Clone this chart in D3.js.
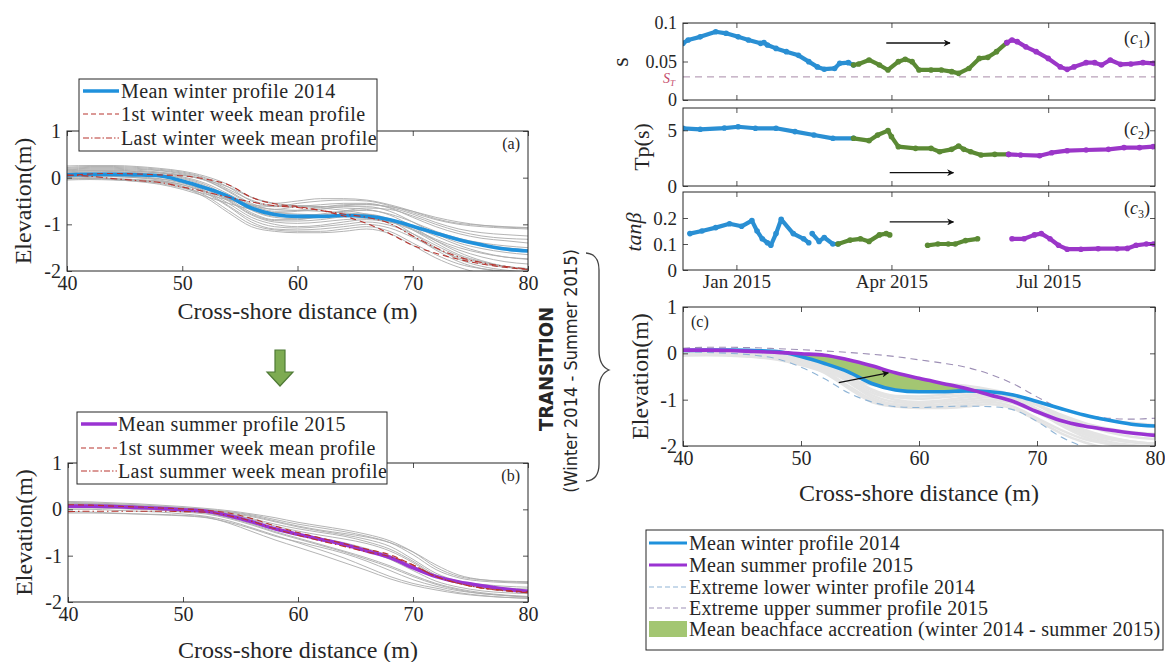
<!DOCTYPE html>
<html><head><meta charset="utf-8">
<script src="https://cdn.jsdelivr.net/npm/d3@7"></script>
<style>
body{margin:0;background:#fff}
svg{display:block}
text{font-family:"Liberation Serif","Times New Roman",serif;fill:#262626}
.sans{font-family:"Liberation Sans Narrow","DejaVu Sans Condensed","Arial Narrow",sans-serif;font-stretch:condensed}
</style></head><body>
<svg id="chart" width="1165" height="662"></svg>
<script>
// ---------- cross-shore grid (m) ----------
const xGrid = [40,42,44,46,48,50,52,54,56,58,60,62,64,66,68,70,72,74,76,78,80];
const xTicks = [40,50,60,70,80];
const zTicks = [-2,-1,0,1];

// ---------- mean / reference profiles (elevation, m) ----------
const meanWinter  = [0.06,0.07,0.07,0.06,0.04,-0.07,-0.22,-0.40,-0.65,-0.79,-0.83,-0.83,-0.81,-0.83,-0.90,-1.04,-1.19,-1.33,-1.44,-1.53,-1.57];
const meanSummer  = [0.07,0.07,0.06,0.04,0.02,-0.01,-0.04,-0.14,-0.27,-0.42,-0.54,-0.65,-0.76,-0.90,-1.04,-1.26,-1.45,-1.57,-1.65,-1.72,-1.77];
const firstWinter = [0.04,0.08,0.09,0.08,0.06,0.04,-0.03,-0.15,-0.42,-0.56,-0.62,-0.70,-0.82,-0.98,-1.20,-1.45,-1.62,-1.75,-1.85,-1.92,-1.97];
const lastWinter  = [0.06,0.03,-0.02,-0.06,-0.10,-0.20,-0.30,-0.42,-0.52,-0.60,-0.64,-0.70,-0.78,-0.85,-0.98,-1.25,-1.50,-1.70,-1.82,-1.90,-1.96];
const firstSummer = [0.10,0.09,0.07,0.05,0.03,0.01,-0.02,-0.08,-0.20,-0.36,-0.50,-0.62,-0.74,-0.86,-0.98,-1.20,-1.45,-1.60,-1.70,-1.75,-1.78];
const lastSummer  = [-0.05,-0.04,-0.04,-0.04,-0.04,-0.05,-0.06,-0.14,-0.26,-0.42,-0.56,-0.68,-0.80,-0.92,-1.02,-1.20,-1.45,-1.60,-1.70,-1.76,-1.80];
const extremeLowerWinter = [0.04,0.02,0.00,-0.04,-0.12,-0.30,-0.55,-0.85,-1.05,-1.15,-1.17,-1.15,-1.14,-1.15,-1.22,-1.47,-1.80,-2.02,-2.15,-2.20,-2.20];
const extremeUpperSummer = [0.11,0.13,0.13,0.12,0.10,0.08,0.05,0.02,-0.02,-0.07,-0.14,-0.21,-0.30,-0.45,-0.66,-0.94,-1.19,-1.33,-1.40,-1.42,-1.40];

// ---------- individual winter 2014 profiles ----------
const w1  = [0.22,0.24,0.24,0.22,0.18,0.12,0.00,-0.20,-0.50,-0.62,-0.55,-0.50,-0.48,-0.50,-0.60,-0.75,-0.90,-1.00,-1.05,-1.08,-1.10];
const w2  = [0.18,0.20,0.20,0.18,0.15,0.08,-0.05,-0.28,-0.55,-0.68,-0.62,-0.58,-0.55,-0.55,-0.65,-0.85,-1.05,-1.20,-1.30,-1.35,-1.40];
const w3  = [0.12,0.15,0.15,0.13,0.10,0.02,-0.12,-0.35,-0.60,-0.75,-0.72,-0.68,-0.62,-0.62,-0.72,-0.95,-1.20,-1.40,-1.52,-1.60,-1.65];
const w4  = [0.10,0.10,0.10,0.08,0.04,-0.05,-0.20,-0.42,-0.70,-0.85,-0.88,-0.85,-0.78,-0.78,-0.88,-1.05,-1.25,-1.45,-1.60,-1.70,-1.75];
const w5  = [0.05,0.06,0.06,0.05,0.02,-0.08,-0.25,-0.50,-0.80,-0.95,-0.98,-0.95,-0.90,-0.88,-0.95,-1.12,-1.35,-1.55,-1.70,-1.80,-1.85];
const w6  = [0.00,0.02,0.02,0.00,-0.03,-0.12,-0.30,-0.60,-0.90,-1.05,-1.08,-1.05,-1.00,-0.95,-1.02,-1.20,-1.45,-1.68,-1.82,-1.90,-1.95];
const w7  = [-0.02,-0.02,-0.03,-0.05,-0.08,-0.18,-0.38,-0.70,-1.00,-1.12,-1.15,-1.15,-1.10,-1.05,-1.15,-1.40,-1.65,-1.85,-1.95,-2.00,-2.02];
const w8  = [0.05,0.02,-0.02,-0.06,-0.12,-0.22,-0.35,-0.48,-0.58,-0.62,-0.62,-0.65,-0.70,-0.78,-0.90,-1.12,-1.40,-1.65,-1.80,-1.90,-1.95];
const w9  = [0.08,0.06,0.03,0.00,-0.05,-0.15,-0.30,-0.45,-0.60,-0.68,-0.70,-0.72,-0.75,-0.80,-0.92,-1.20,-1.50,-1.75,-1.90,-1.98,-2.02];
const w10 = [0.15,0.16,0.16,0.14,0.10,0.05,-0.05,-0.20,-0.42,-0.55,-0.60,-0.62,-0.60,-0.58,-0.62,-0.72,-0.85,-0.95,-1.02,-1.06,-1.08];
const w11 = [0.02,0.04,0.04,0.02,-0.02,-0.10,-0.28,-0.55,-0.85,-1.00,-1.05,-1.02,-0.95,-0.90,-0.95,-1.05,-1.20,-1.35,-1.45,-1.50,-1.55];
const w12 = [0.10,0.12,0.12,0.10,0.06,-0.02,-0.18,-0.45,-0.75,-0.90,-0.90,-0.82,-0.72,-0.65,-0.68,-0.82,-1.00,-1.15,-1.25,-1.30,-1.32];
const w13 = [0.20,0.22,0.22,0.20,0.16,0.10,-0.02,-0.25,-0.48,-0.60,-0.60,-0.62,-0.65,-0.68,-0.80,-1.05,-1.35,-1.60,-1.78,-1.90,-1.98];
const w14 = [-0.05,-0.04,-0.05,-0.07,-0.10,-0.20,-0.42,-0.75,-1.05,-1.15,-1.18,-1.18,-1.15,-1.10,-1.20,-1.45,-1.72,-1.92,-2.05,-2.10,-2.10];
const w15 = [0.25,0.26,0.26,0.24,0.20,0.14,0.03,-0.15,-0.42,-0.55,-0.50,-0.45,-0.45,-0.48,-0.58,-0.72,-0.88,-0.98,-1.02,-1.05,-1.07];
const w16 = [0.14,0.14,0.13,0.11,0.07,0.00,-0.15,-0.40,-0.68,-0.82,-0.82,-0.78,-0.72,-0.70,-0.78,-0.95,-1.15,-1.30,-1.40,-1.46,-1.50];
const w17 = [0.03,0.00,-0.04,-0.08,-0.14,-0.25,-0.40,-0.55,-0.68,-0.75,-0.78,-0.80,-0.82,-0.86,-0.98,-1.25,-1.55,-1.80,-1.95,-2.02,-2.05];
const w18 = [0.07,0.08,0.08,0.06,0.02,-0.06,-0.22,-0.48,-0.78,-0.92,-0.93,-0.90,-0.84,-0.83,-0.92,-1.10,-1.32,-1.50,-1.62,-1.70,-1.74];
const w19 = [0.17,0.18,0.18,0.16,0.12,0.06,-0.06,-0.30,-0.58,-0.72,-0.70,-0.64,-0.58,-0.57,-0.64,-0.78,-0.96,-1.10,-1.18,-1.22,-1.25];
const w20 = [-0.03,-0.02,-0.02,-0.04,-0.07,-0.15,-0.33,-0.62,-0.95,-1.10,-1.12,-1.10,-1.05,-1.00,-1.08,-1.28,-1.52,-1.72,-1.85,-1.92,-1.96];
const winterProfiles = [w1,w2,w3,w4,w5,w6,w7,w8,w9,w10,w11,w12,w13,w14,w15,w16,w17,w18,w19,w20];
// profiles shown as light shading in panel (c)
const winterLowerProfiles = [w5,w6,w7,w8,w9,w11,w14,w17,w18,w20];

// ---------- individual summer 2015 profiles ----------
const s1  = [0.15,0.14,0.12,0.10,0.07,0.04,0.00,-0.05,-0.12,-0.22,-0.32,-0.40,-0.48,-0.58,-0.72,-0.98,-1.30,-1.48,-1.55,-1.58,-1.60];
const s2  = [0.12,0.12,0.10,0.08,0.05,0.02,-0.02,-0.08,-0.16,-0.27,-0.38,-0.47,-0.55,-0.65,-0.80,-1.08,-1.38,-1.55,-1.62,-1.66,-1.68];
const s3  = [0.10,0.10,0.08,0.06,0.03,0.00,-0.03,-0.10,-0.20,-0.32,-0.42,-0.50,-0.58,-0.70,-0.86,-1.12,-1.42,-1.58,-1.66,-1.70,-1.72];
const s4  = [0.08,0.07,0.06,0.04,0.02,-0.02,-0.06,-0.14,-0.26,-0.40,-0.52,-0.62,-0.72,-0.85,-1.00,-1.22,-1.45,-1.60,-1.70,-1.76,-1.80];
const s5  = [0.05,0.04,0.03,0.02,0.00,-0.04,-0.08,-0.18,-0.32,-0.48,-0.62,-0.76,-0.90,-1.05,-1.22,-1.42,-1.60,-1.72,-1.80,-1.85,-1.88];
const s6  = [0.00,0.00,-0.02,-0.04,-0.06,-0.10,-0.15,-0.25,-0.40,-0.56,-0.72,-0.88,-1.05,-1.25,-1.45,-1.60,-1.70,-1.80,-1.86,-1.90,-1.92];
const s7  = [-0.05,-0.06,-0.08,-0.10,-0.12,-0.14,-0.18,-0.28,-0.42,-0.58,-0.70,-0.82,-0.95,-1.12,-1.32,-1.52,-1.66,-1.76,-1.82,-1.86,-1.90];
const s8  = [0.13,0.12,0.10,0.08,0.05,0.02,-0.01,-0.06,-0.14,-0.25,-0.36,-0.45,-0.52,-0.60,-0.72,-0.92,-1.20,-1.42,-1.52,-1.56,-1.58];
const s9  = [0.06,0.06,0.05,0.03,0.00,-0.03,-0.07,-0.16,-0.30,-0.44,-0.56,-0.66,-0.76,-0.90,-1.08,-1.32,-1.55,-1.68,-1.76,-1.80,-1.82];
const s10 = [0.10,0.09,0.08,0.06,0.04,0.01,-0.03,-0.10,-0.22,-0.36,-0.47,-0.56,-0.64,-0.74,-0.90,-1.15,-1.45,-1.60,-1.68,-1.72,-1.75];
const s11 = [0.17,0.16,0.14,0.12,0.09,0.06,0.02,-0.03,-0.10,-0.18,-0.28,-0.36,-0.44,-0.54,-0.68,-0.92,-1.25,-1.45,-1.52,-1.55,-1.56];
const s12 = [-0.08,-0.08,-0.09,-0.10,-0.11,-0.13,-0.17,-0.30,-0.48,-0.66,-0.82,-0.98,-1.15,-1.32,-1.50,-1.64,-1.74,-1.82,-1.87,-1.90,-1.92];
const s13 = [0.03,0.03,0.02,0.00,-0.02,-0.06,-0.10,-0.20,-0.34,-0.50,-0.64,-0.78,-0.92,-1.08,-1.25,-1.45,-1.62,-1.74,-1.82,-1.86,-1.89];
const summerProfiles = [s1,s2,s3,s4,s5,s6,s7,s8,s9,s10,s11,s12,s13];

// ---------- time series (c1: s, c2: Tp, c3: tan beta) ----------
const sWinter = [["2014-12-01",0.0736],["2014-12-04",0.078],["2014-12-11",0.082],["2014-12-20",0.0887],["2014-12-26",0.0866],["2015-01-02",0.082],["2015-01-08",0.078],["2015-01-15",0.0736],["2015-01-17",0.0745],["2015-01-19",0.0714],["2015-01-24",0.067],["2015-01-30",0.0628],["2015-02-06",0.058],["2015-02-12",0.0498],["2015-02-17",0.043],["2015-02-21",0.040],["2015-02-27",0.041],["2015-03-02",0.0476],["2015-03-07",0.0485],["2015-03-10",0.0455]];
const sTransition = [["2015-03-10",0.0455],["2015-03-13",0.0468],["2015-03-19",0.052],["2015-03-25",0.0455],["2015-03-30",0.039],["2015-04-05",0.0498],["2015-04-09",0.0528],["2015-04-13",0.0498],["2015-04-17",0.039],["2015-04-24",0.039],["2015-04-30",0.039],["2015-05-06",0.0368],["2015-05-10",0.0346],["2015-05-16",0.041],["2015-05-22",0.054],["2015-05-27",0.0554],["2015-06-01",0.0628],["2015-06-07",0.0745]];
const sSummer = [["2015-06-07",0.0745],["2015-06-10",0.078],["2015-06-13",0.0758],["2015-06-18",0.069],["2015-06-24",0.0628],["2015-07-01",0.054],["2015-07-08",0.043],["2015-07-12",0.0398],["2015-07-16",0.043],["2015-07-23",0.0485],["2015-07-28",0.0485],["2015-08-01",0.0455],["2015-08-06",0.052],["2015-08-12",0.0463],["2015-08-18",0.0468],["2015-08-25",0.0485],["2015-08-31",0.0476]];
const sThreshold = 0.03;

const tpWinter = [["2014-12-01",5.18],["2014-12-11",5.09],["2014-12-25",5.2],["2015-01-02",5.32],["2015-01-12",5.18],["2015-01-24",5.18],["2015-02-04",4.88],["2015-02-15",4.58],["2015-02-26",4.28],["2015-03-10",4.28]];
const tpTransition = [["2015-03-10",4.28],["2015-03-19",4.07],["2015-03-24",4.58],["2015-03-30",4.97],["2015-04-01",4.43],["2015-04-05",3.53],["2015-04-15",3.38],["2015-04-24",3.38],["2015-04-29",3.08],["2015-05-06",3.29],["2015-05-10",3.59],["2015-05-13",3.29],["2015-05-17",3.08],["2015-05-23",2.78],["2015-05-31",2.84],["2015-06-08",2.84]];
const tpSummer = [["2015-06-08",2.84],["2015-06-15",2.78],["2015-06-26",2.72],["2015-07-03",2.99],["2015-07-12",3.17],["2015-07-23",3.23],["2015-08-05",3.29],["2015-08-14",3.44],["2015-08-23",3.44],["2015-08-31",3.53]];

const tbWinterA = [["2014-12-05",0.14],["2014-12-12",0.15],["2014-12-20",0.163],["2014-12-28",0.178],["2015-01-04",0.168],["2015-01-10",0.19],["2015-01-13",0.15],["2015-01-16",0.12],["2015-01-19",0.105],["2015-01-21",0.095],["2015-01-24",0.14],["2015-01-27",0.195],["2015-02-03",0.14],["2015-02-09",0.12],["2015-02-12",0.105]];
const tbWinterB = [["2015-02-14",0.14],["2015-02-18",0.11],["2015-02-21",0.125],["2015-02-26",0.10],["2015-03-01",0.10]];
const tbTransA = [["2015-03-01",0.10],["2015-03-08",0.115],["2015-03-14",0.12],["2015-03-19",0.11],["2015-03-25",0.135],["2015-03-29",0.14],["2015-03-31",0.135]];
const tbTransB = [["2015-04-22",0.095],["2015-04-28",0.10],["2015-05-04",0.10],["2015-05-08",0.10],["2015-05-14",0.113],["2015-05-21",0.12]];
const tbSummer = [["2015-06-10",0.12],["2015-06-17",0.12],["2015-06-23",0.135],["2015-06-27",0.14],["2015-07-02",0.12],["2015-07-07",0.095],["2015-07-12",0.08],["2015-07-20",0.08],["2015-07-30",0.082],["2015-08-10",0.082],["2015-08-16",0.083],["2015-08-21",0.095],["2015-08-27",0.10],["2015-08-31",0.10]];

const timeDomain = ["2014-12-01","2015-09-01"];
const timeTicks = ["2015-01-01","2015-04-01","2015-07-01"];

// ---------- labels ----------
const legendA = ["Mean winter profile 2014","1st winter week mean profile","Last winter week mean profile"];
const legendB = ["Mean summer profile 2015","1st summer week mean profile","Last summer week mean profile"];
const legendC = ["Mean winter profile 2014","Mean summer profile 2015","Extreme lower winter profile 2014","Extreme upper summer profile 2015","Mean beachface accreation (winter 2014 - summer 2015)"];

// ---------- colours ----------
const C = {blue:"#1f91dc", purple:"#9a33d2", red:"#b8342e", gray:"#ababab", tsBlue:"#2a8fd3", tsGreen:"#5b8a34", tsPurple:"#9b36c8",
  green:"#a3c672", lowW:"#8fb4d6", upS:"#9d8fb5", ax:"#262626"};

const svg = d3.select("#chart");
const parse = d3.timeParse("%Y-%m-%d");
const fmt = d => String(d);

svg.append("defs").append("marker").attr("id","ah").attr("viewBox","0 0 10 10").attr("refX",9).attr("refY",5)
  .attr("markerWidth",9).attr("markerHeight",7).attr("markerUnits","userSpaceOnUse").attr("orient","auto")
  .append("path").attr("d","M0,0 L10,5 L0,10 L3,5 Z").attr("fill","#111");

function boxAxes(g, x, y, b, xt, yt, xfmt, yfmt, showX, fs){
  g.append("g").attr("transform",`translate(0,${b.b})`).call(d3.axisBottom(x).tickValues(xt).tickSize(-5).tickPadding(5).tickFormat(showX?xfmt:""));
  g.append("g").attr("transform",`translate(0,${b.t})`).call(d3.axisTop(x).tickValues(xt).tickSize(-5).tickFormat(""));
  g.append("g").attr("transform",`translate(${b.l},0)`).call(d3.axisLeft(y).tickValues(yt).tickSize(-5).tickPadding(6).tickFormat(yfmt));
  g.append("g").attr("transform",`translate(${b.r},0)`).call(d3.axisRight(y).tickValues(yt).tickSize(-5).tickFormat(""));
  g.selectAll(".domain").remove();
  g.selectAll(".tick line").attr("stroke",C.ax).attr("stroke-width",0.8);
  g.selectAll(".tick text").attr("font-size",fs).attr("fill",C.ax);
  g.append("rect").attr("x",b.l).attr("y",b.t).attr("width",b.r-b.l).attr("height",b.b-b.t)
    .attr("fill","none").attr("stroke",C.ax).attr("stroke-width",1);
}

let clipId = 0;
function clip(g, b){
  const id = "clip"+(clipId++);
  svg.select("defs").append("clipPath").attr("id",id).append("rect").attr("x",b.l).attr("y",b.t).attr("width",b.r-b.l).attr("height",b.b-b.t);
  return g.append("g").attr("clip-path",`url(#${id})`);
}

function legend(g, box, items, rows, sx1, sx2, tx, fs, ls){
  g.append("rect").attr("x",box.x).attr("y",box.y).attr("width",box.w).attr("height",box.h).attr("fill","#fff").attr("stroke",C.ax).attr("stroke-width",1);
  items.forEach((it,i)=>{
    const yy = rows[i];
    if(it.fill){
      g.append("rect").attr("x",sx1).attr("y",yy-8).attr("width",sx2-sx1).attr("height",16).attr("fill",it.fill);
    } else {
      g.append("line").attr("x1",sx1).attr("x2",sx2).attr("y1",yy).attr("y2",yy).attr("stroke",it.color)
        .attr("stroke-width",it.w).attr("stroke-dasharray",it.dash||null);
    }
    g.append("text").attr("x",tx).attr("y",yy).attr("dy","0.35em").attr("font-size",fs).attr("letter-spacing",ls).text(it.label);
  });
}

function profilePanel(b, bg, mean, meanColor, first, last, panelLabel, leg, legBox, legRows, legS1, legS2, legT, xlabY){
  const g = svg.append("g");
  const x = d3.scaleLinear().domain([40,80]).range([b.l,b.r]);
  const y = d3.scaleLinear().domain([-2,1]).range([b.b,b.t]);
  const line = d3.line().x((d,i)=>x(xGrid[i])).y(d=>y(d)).curve(d3.curveMonotoneX);
  const cg = clip(g,b);
  bg.forEach(p=>cg.append("path").attr("d",line(p)).attr("fill","none").attr("stroke",C.gray).attr("stroke-width",0.9));
  cg.append("path").attr("d",line(mean)).attr("fill","none").attr("stroke",meanColor).attr("stroke-width",3.6);
  cg.append("path").attr("d",line(first)).attr("fill","none").attr("stroke",C.red).attr("stroke-width",1.1).attr("stroke-dasharray","6,4");
  cg.append("path").attr("d",line(last)).attr("fill","none").attr("stroke",C.red).attr("stroke-width",1.1).attr("stroke-dasharray","7,3,1.5,3");
  boxAxes(g,x,y,b,xTicks,zTicks,fmt,fmt,true,20);
  g.append("text").attr("x",b.r-8).attr("y",b.t+18).attr("text-anchor","end").attr("font-size",16).text(panelLabel);
  g.append("text").attr("x",(b.l+b.r)/2).attr("y",xlabY).attr("text-anchor","middle").attr("font-size",24).text("Cross-shore distance (m)");
  g.append("text").attr("transform",`translate(${b.l-44},${(b.t+b.b)/2}) rotate(-90)`).attr("text-anchor","middle").attr("dy","0.35em").attr("font-size",24).text("Elevation(m)");
  legend(g, legBox, [
    {label:leg[0],color:meanColor,w:3.6},
    {label:leg[1],color:C.red,w:1.1,dash:"5,3"},
    {label:leg[2],color:C.red,w:1.1,dash:"6,2,1.5,2"}], legRows, legS1, legS2, legT, 20, 0.4);
}

// Panel (a)
profilePanel({l:67,r:528,t:131,b:271}, winterProfiles, meanWinter, C.blue, firstWinter, lastWinter, "(a)", legendA,
  {x:79,y:79,w:298,h:72}, [91,114,138], 83, 119, 121, 319);
// Panel (b)
profilePanel({l:68,r:528,t:463,b:602}, summerProfiles, meanSummer, C.purple, firstSummer, lastSummer, "(b)", legendB,
  {x:77,y:412,w:310,h:72}, [424,448,471], 81, 117, 118, 658);

// green down arrow
svg.append("path").attr("d","M275,350 L285,350 L285,372 L293,372 L280,386 L267,372 L275,372 Z")
  .attr("fill","#7dab52").attr("stroke","#4f7a36").attr("stroke-width",1.2);

// transition text + brace
svg.append("text").attr("class","sans").attr("transform","translate(546,369) rotate(-90)").attr("text-anchor","middle").attr("dy","0.35em")
  .attr("font-size",20).attr("font-weight","bold").text("TRANSITION");
svg.append("text").attr("class","sans").attr("transform","translate(571,371) rotate(-90)").attr("text-anchor","middle").attr("dy","0.35em")
  .attr("font-size",18).text("(Winter 2014 - Summer 2015)");
svg.append("path").attr("d","M586,253 Q599,254 599,270 L599,350 Q599,366 609,370 Q599,374 599,390 L599,464 Q599,480 586,481")
  .attr("fill","none").attr("stroke","#444").attr("stroke-width",1.3);

// ---------- time series panels ----------
const TL = 683, TR = 1155;
const tx = d3.scaleTime().domain(timeDomain.map(parse)).range([TL,TR]);
const tTicks = timeTicks.map(parse);

function tsPanel(b, domain, yt, yfmt, segs, showX){
  const g = svg.append("g");
  const y = d3.scaleLinear().domain(domain).range([b.b,b.t]);
  const line = d3.line().x(d=>tx(parse(d[0]))).y(d=>y(d[1]));
  const cg = clip(g,b);
  segs.forEach(([data,col])=>{
    cg.append("path").attr("d",line(data)).attr("fill","none").attr("stroke",col).attr("stroke-width",4.2).attr("stroke-linejoin","round").attr("stroke-linecap","round");
    cg.selectAll(null).data(data).enter().append("circle").attr("cx",d=>tx(parse(d[0]))).attr("cy",d=>y(d[1])).attr("r",2.8).attr("fill",col);
  });
  boxAxes(g,tx,y,b,tTicks,yt,d3.timeFormat("%b %Y"),yfmt,showX,19);
  return {g,y,cg};
}

// c1
const c1 = tsPanel({l:TL,r:TR,t:23,b:100},[0,0.1],[0,0.05,0.1],fmt,[[sWinter,C.tsBlue],[sTransition,C.tsGreen],[sSummer,C.tsPurple]],false);
c1.g.selectAll(".tick text").attr("font-size",18);
c1.cg.insert("line",":first-child").attr("x1",TL).attr("x2",TR).attr("y1",c1.y(sThreshold)).attr("y2",c1.y(sThreshold))
  .attr("stroke","#a88aa8").attr("stroke-width",1).attr("stroke-dasharray","7,5");
const st = c1.g.append("text").attr("x",TL-8).attr("y",c1.y(sThreshold)+2).attr("dy","0.3em").attr("text-anchor","end").attr("font-size",14).attr("font-style","italic").style("fill","#c44a6a");
st.append("tspan").text("S");
st.append("tspan").attr("font-size",9).attr("dy",3).text("T");
c1.g.append("text").attr("transform",`translate(620,62) rotate(-90)`).attr("text-anchor","middle").attr("dy","0.35em").attr("font-size",24).text("s");
function panelTag(g, x, y, sub){
  const t = g.append("text").attr("x",x).attr("y",y).attr("text-anchor","end").attr("font-size",18);
  t.append("tspan").text("(");
  t.append("tspan").attr("font-style","italic").text("c");
  t.append("tspan").attr("font-size",12).attr("dy",4).text(sub);
  t.append("tspan").attr("dy",-4).text(")");
}
panelTag(c1.g, TR-5, 44, "1");
function tArrow(g, y, d1, d2, v){
  g.append("line").attr("x1",tx(parse(d1))).attr("x2",tx(parse(d2))).attr("y1",y(v)).attr("y2",y(v))
    .attr("stroke","#111").attr("stroke-width",1.3).attr("marker-end","url(#ah)");
}
tArrow(c1.g, c1.y, "2015-03-29","2015-05-05", 0.074);

// c2
const c2 = tsPanel({l:TL,r:TR,t:108,b:186},[0,7],[0,5],fmt,[[tpWinter,C.tsBlue],[tpTransition,C.tsGreen],[tpSummer,C.tsPurple]],false);
c2.g.append("text").attr("transform",`translate(641,147) rotate(-90)`).attr("text-anchor","middle").attr("dy","0.35em").attr("font-size",22).text("Tp(s)");
panelTag(c2.g, TR-5, 135, "2");
tArrow(c2.g, c2.y, "2015-03-31","2015-05-07", 1.2);

// c3
const c3 = tsPanel({l:TL,r:TR,t:192,b:270},[0,0.3],[0,0.1,0.2],fmt,[[tbWinterA,C.tsBlue],[tbWinterB,C.tsBlue],[tbTransA,C.tsGreen],[tbTransB,C.tsGreen],[tbSummer,C.tsPurple]],true);
c3.g.append("text").attr("transform",`translate(633,232) rotate(-90)`).attr("text-anchor","middle").attr("dy","0.35em").attr("font-size",22).attr("font-style","italic").text("tanβ");
panelTag(c3.g, TR-5, 214, "3");
tArrow(c3.g, c3.y, "2015-03-31","2015-05-07", 0.185);

// ---------- panel (c) ----------
(function(){
  const b = {l:TL,r:TR,t:307,b:446};
  const g = svg.append("g");
  const x = d3.scaleLinear().domain([40,80]).range([b.l,b.r]);
  const y = d3.scaleLinear().domain([-2,1]).range([b.b,b.t]);
  const line = d3.line().x((d,i)=>x(xGrid[i])).y(d=>y(d)).curve(d3.curveMonotoneX);
  const cg = clip(g,b);
  winterLowerProfiles.forEach(p=>cg.append("path").attr("d",line(p)).attr("fill","none").attr("stroke","#e4e4e4").attr("stroke-width",2.5));
  const area = d3.area().x((d,i)=>x(xGrid[i])).y0((d,i)=>y(meanWinter[i])).y1((d,i)=>y(Math.max(meanSummer[i],meanWinter[i]))).curve(d3.curveMonotoneX);
  cg.append("path").attr("d",area(meanWinter)).attr("fill",C.green).attr("stroke","#4f8f6a").attr("stroke-width",0.8);
  cg.append("path").attr("d",line(extremeLowerWinter)).attr("fill","none").attr("stroke",C.lowW).attr("stroke-width",1.1).attr("stroke-dasharray","7,5");
  cg.append("path").attr("d",line(extremeUpperSummer)).attr("fill","none").attr("stroke",C.upS).attr("stroke-width",1.1).attr("stroke-dasharray","7,5");
  cg.append("path").attr("d",line(meanWinter)).attr("fill","none").attr("stroke",C.blue).attr("stroke-width",3.6);
  cg.append("path").attr("d",line(meanSummer)).attr("fill","none").attr("stroke",C.purple).attr("stroke-width",3.6);
  g.append("line").attr("x1",x(53.2)).attr("y1",y(-0.63)).attr("x2",x(57.4)).attr("y2",y(-0.42))
    .attr("stroke","#111").attr("stroke-width",1.3).attr("marker-end","url(#ah)");
  boxAxes(g,x,y,b,xTicks,zTicks,fmt,fmt,true,20);
  g.append("text").attr("x",b.l+8).attr("y",b.t+20).attr("font-size",16).text("(c)");
  g.append("text").attr("x",(b.l+b.r)/2).attr("y",501).attr("text-anchor","middle").attr("font-size",24).text("Cross-shore distance (m)");
  g.append("text").attr("transform",`translate(640,${(b.t+b.b)/2}) rotate(-90)`).attr("text-anchor","middle").attr("dy","0.35em").attr("font-size",24).text("Elevation(m)");
  legend(g, {x:646,y:530,w:517,h:120}, [
    {label:legendC[0],color:C.blue,w:3},
    {label:legendC[1],color:C.purple,w:3},
    {label:legendC[2],color:C.lowW,w:1.1,dash:"5,3"},
    {label:legendC[3],color:C.upS,w:1.1,dash:"5,3"},
    {label:legendC[4],fill:C.green}], [543,565,587,608,629], 649, 687, 689, 20, 0.25);
})();
</script>
</body></html>
